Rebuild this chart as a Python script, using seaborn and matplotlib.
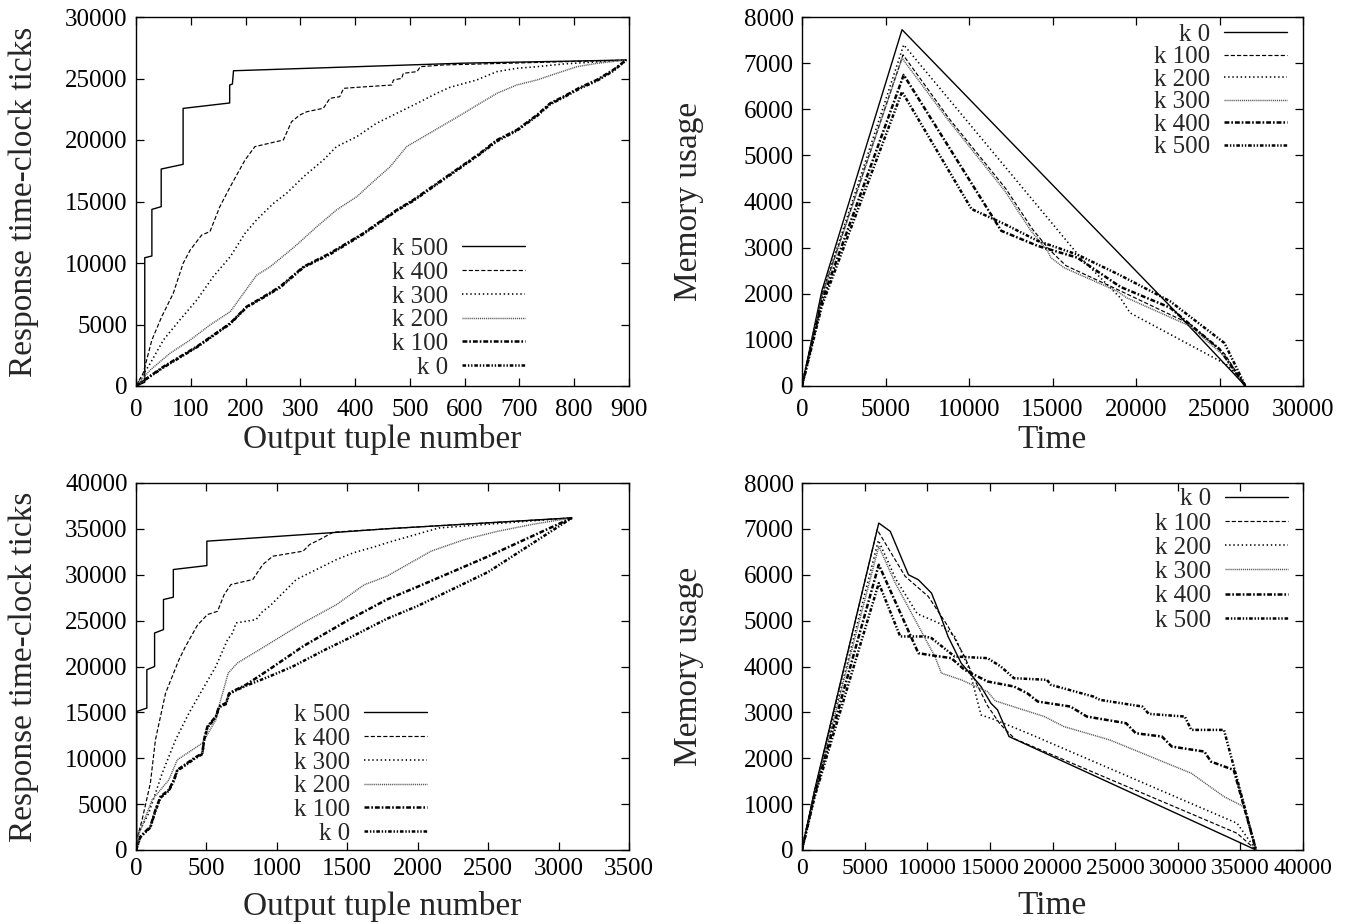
import matplotlib
matplotlib.use("Agg")
import matplotlib.pyplot as plt
import seaborn as sns
import numpy as np

# ---------------- data ----------------
# Top-left: response time vs output tuple number
tl_labels = ["k 500", "k 400", "k 300", "k 200", "k 100", "k 0"]
tl_k500_x = [0, 16, 16, 29, 29, 46, 46, 86, 86, 171, 171, 176, 178, 600, 895]
tl_k500_y = [0, 300, 10430, 10570, 14360, 14580, 17640, 18020, 22570, 23010, 24470, 24550, 25630, 26250, 26500]
tl_k400_x = [0, 13, 29, 47, 68, 86, 99, 120, 135, 153, 172, 199, 217, 269, 284, 299, 312, 342, 354, 372, 379, 403, 467, 470, 485, 488, 513, 519, 561, 895]
tl_k400_y = [0, 1030, 3740, 5640, 7530, 9970, 11060, 12280, 12550, 14580, 16200, 18370, 19460, 20000, 21490, 22030, 22300, 22580, 23390, 23520, 24200, 24280, 24470, 24880, 25010, 25420, 25560, 25960, 26100, 26500]
tl_k300_x = [0, 26, 50, 80, 111, 141, 172, 199, 220, 251, 275, 306, 342, 366, 403, 439, 476, 513, 549, 573, 622, 659, 695, 732, 780, 895]
tl_k300_y = [0, 1840, 3740, 5370, 6990, 8890, 10510, 12410, 13500, 14850, 15670, 17020, 18370, 19460, 20270, 21360, 22170, 22980, 23800, 24280, 24880, 25560, 25830, 25960, 26180, 26500]
tl_k200_x = [0, 26, 62, 99, 135, 172, 199, 220, 245, 275, 293, 330, 366, 403, 433, 464, 494, 525, 567, 598, 628, 659, 695, 732, 768, 805, 841, 895]
tl_k200_y = [0, 1300, 2660, 3740, 4960, 6040, 7700, 9000, 9700, 10790, 11460, 12950, 14310, 15390, 16610, 17830, 19460, 20270, 21360, 22170, 22980, 23800, 24470, 24880, 25420, 25960, 26230, 26500]
tl_k100_x = [0, 50, 111, 172, 202, 233, 263, 306, 354, 415, 476, 506, 567, 628, 659, 695, 732, 756, 780, 811, 841, 871, 895]
tl_k100_y = [0, 1570, 3200, 5100, 6450, 7260, 8080, 9700, 10790, 12410, 14310, 15120, 17020, 18920, 20000, 20810, 22030, 22980, 23520, 24280, 24880, 25690, 26500]
tl_k0_x = [0, 50, 111, 172, 202, 233, 263, 306, 354, 415, 476, 506, 567, 628, 659, 695, 732, 756, 780, 811, 841, 871, 895]
tl_k0_y = [0, 1500, 3150, 5050, 6400, 7200, 8000, 9650, 10700, 12350, 14250, 15050, 16950, 18850, 19900, 20750, 21950, 22900, 23450, 24200, 24800, 25600, 26500]

# Top-right: memory usage vs time
tr_labels = ["k 0", "k 100", "k 200", "k 300", "k 400", "k 500"]
tr_k0_x = [0, 1190, 5990, 12000, 18860, 22500, 26550]
tr_k0_y = [0, 2065, 7725, 5480, 2920, 1560, 0]
tr_k100_x = [0, 1200, 6050, 8800, 12200, 13800, 14800, 15800, 18900, 23200, 25300, 26550]
tr_k100_y = [0, 1980, 7180, 5800, 4280, 3400, 2960, 2610, 2090, 1350, 700, 0]
tr_k200_x = [0, 1200, 6090, 16680, 19060, 19650, 25500, 26550]
tr_k200_y = [0, 2000, 7398, 2783, 1911, 1584, 450, 0]
tr_k300_x = [0, 1200, 5990, 8760, 12130, 13710, 14700, 14900, 15690, 18860, 19450, 23230, 25200, 26550]
tr_k300_y = [0, 1950, 7107, 5763, 4237, 3365, 2929, 2783, 2565, 2057, 1911, 1300, 676, 0]
tr_k400_x = [0, 1200, 6090, 7770, 11930, 14110, 16480, 19060, 22030, 25000, 26550]
tr_k400_y = [0, 1850, 6744, 5772, 3365, 3038, 2783, 2150, 1700, 800, 0]
tr_k500_x = [0, 1200, 5990, 10150, 12130, 14110, 16480, 19060, 22030, 25300, 26550]
tr_k500_y = [0, 1750, 6380, 3837, 3510, 3147, 2850, 2400, 1840, 930, 0]

# Bottom-left: response time vs output tuple number
bl_labels = ["k 500", "k 400", "k 300", "k 200", "k 100", "k 0"]
bl_k500_x = [0, 5, 5, 77, 77, 132, 132, 195, 195, 265, 265, 503, 503, 1376, 1781, 3095]
bl_k500_y = [0, 200, 15100, 15470, 19650, 20000, 23650, 24020, 27300, 27550, 30570, 31000, 33660, 34570, 35010, 36200]
bl_k400_x = [0, 5, 43, 102, 138, 174, 210, 305, 352, 436, 507, 579, 626, 674, 829, 900, 971, 1186, 1233, 1305, 1400, 1781, 3095]
bl_k400_y = [0, 1090, 3280, 7280, 12010, 14560, 17100, 20740, 22200, 24500, 25660, 26020, 27840, 28930, 29480, 31110, 32020, 32570, 33300, 33840, 34640, 35010, 36200]
bl_k300_x = [0, 5, 90, 186, 281, 376, 471, 567, 650, 686, 710, 852, 900, 948, 1043, 1138, 1281, 1424, 1543, 1710, 1781, 2150, 3095]
bl_k300_y = [0, 1460, 4000, 8370, 12010, 14920, 17470, 20010, 22930, 23650, 24750, 25110, 26020, 26560, 28020, 29480, 30570, 31660, 32390, 33120, 33480, 35100, 36200]
bl_k200_x = [0, 5, 114, 233, 293, 471, 567, 595, 655, 720, 876, 1186, 1424, 1619, 1781, 2095, 2333, 2571, 2810, 3095]
bl_k200_y = [0, 1090, 5460, 7640, 9830, 11640, 14190, 16010, 19290, 20380, 21830, 24750, 26750, 28900, 29840, 32570, 33840, 34750, 35480, 36200]
bl_k100_x = [0, 31, 102, 138, 174, 233, 269, 293, 329, 412, 471, 483, 507, 567, 590, 638, 662, 710, 781, 948, 1186, 1500, 1781, 2000, 2500, 3095]
bl_k100_y = [0, 1460, 2550, 4370, 5820, 6550, 7640, 8730, 9100, 10010, 10550, 12010, 13460, 14560, 15650, 16010, 17100, 17470, 18010, 19700, 22200, 25000, 27300, 28700, 32000, 36200]
bl_k0_x = [0, 31, 102, 138, 174, 233, 269, 293, 329, 412, 471, 483, 507, 567, 590, 638, 662, 710, 781, 948, 1114, 1352, 1500, 1781, 2000, 2500, 3095]
bl_k0_y = [0, 1400, 2450, 4250, 5700, 6450, 7550, 8650, 9000, 9900, 10450, 11900, 13350, 14450, 15550, 15900, 17000, 17400, 17900, 18920, 20010, 21900, 23000, 25200, 26600, 30300, 36200]

# Bottom-right: memory usage vs time
br_labels = ["k 0", "k 100", "k 200", "k 300", "k 400", "k 500"]
br_k0_x = [0, 1000, 6130, 7050, 8500, 9290, 10340, 11130, 11660, 12710, 14290, 15080, 15610, 16530, 36250]
br_k0_y = [0, 1300, 7127, 6945, 6000, 5891, 5600, 5054, 4655, 4073, 3564, 3200, 3055, 2473, 0]
br_k100_x = [0, 1000, 6000, 8240, 10080, 11660, 12980, 13800, 14800, 15800, 17000, 34740, 36250]
br_k100_y = [0, 1280, 6982, 5964, 5527, 4873, 4218, 3700, 3150, 2750, 2420, 364, 0]
br_k200_x = [0, 1000, 6100, 7500, 9200, 10900, 12190, 13370, 14290, 15436, 18040, 34740, 36250]
br_k200_y = [0, 1260, 6750, 5900, 5150, 4950, 4655, 3927, 2945, 2836, 2545, 582, 0]
br_k300_x = [0, 1000, 6130, 7450, 9030, 10610, 11130, 12710, 14820, 15436, 19350, 20910, 24560, 27170, 31080, 33690, 35260, 36250]
br_k300_y = [0, 1240, 6618, 5818, 5018, 4218, 3855, 3709, 3450, 3250, 2909, 2691, 2400, 2109, 1673, 1164, 945, 0]
br_k400_x = [0, 1000, 6130, 9290, 10080, 11920, 12980, 14820, 16920, 17980, 18830, 21430, 22740, 25870, 26650, 28740, 29520, 32130, 32650, 34470, 36250]
br_k400_y = [0, 1200, 6218, 4291, 4255, 4182, 3927, 3673, 3564, 3418, 3236, 3127, 2909, 2764, 2545, 2473, 2255, 2145, 1927, 1745, 0]
br_k500_x = [0, 1000, 6130, 7840, 9820, 10340, 12190, 14820, 15870, 16920, 19560, 19870, 23260, 23780, 27170, 27690, 30560, 31080, 33690, 36250]
br_k500_y = [0, 1150, 5818, 4655, 4655, 4618, 4218, 4182, 4000, 3745, 3709, 3600, 3345, 3273, 3127, 2967, 2909, 2618, 2618, 0]

# ---------------- style ----------------
sns.set_style("ticks")
plt.rcParams.update({
    "font.family": ["Liberation Serif", "DejaVu Serif"],
    "lines.scale_dashes": False,
    "xtick.direction": "in", "ytick.direction": "in",
    "xtick.top": True, "ytick.right": True,
    "xtick.major.size": 6, "ytick.major.size": 6,
    "xtick.major.width": 0.9, "ytick.major.width": 0.9,
    "axes.linewidth": 1.0, "axes.edgecolor": "black",
    "xtick.color": "black", "ytick.color": "black",
})

STYLES = [
    dict(color="black", lw=1.0, ls="-"),
    dict(color="black", lw=0.85, ls=(0, (3.0, 1.5))),
    dict(color="black", lw=1.15, ls=(0, (1.0, 2.0))),
    dict(color="0.35", lw=1.05, ls=(0, (0.8, 0.6))),
    dict(color="black", lw=1.8, ls=(0, (3.5, 1.4, 1.2, 1.4))),
    dict(color="black", lw=1.8, ls=(0, (2.6, 1.3, 1.0, 1.3, 1.0, 1.3))),
]

TICK_FS = 18
LABEL_FS = 24
LEG_FS = 18

fig = plt.figure(figsize=(13.52, 9.24), dpi=100)
W, H = 1352, 924

def add_ax(x0, y0, x1, y1):
    return fig.add_axes([x0 / W, 1 - y1 / H, (x1 - x0) / W, (y1 - y0) / H])

ax_tl = add_ax(136, 17, 629, 386)
ax_tr = add_ax(802, 17, 1303, 386)
ax_bl = add_ax(136, 483, 629, 850)
ax_br = add_ax(802, 483, 1303, 850)

panels = [
    (ax_tl, tl_labels, [(tl_k500_x, tl_k500_y), (tl_k400_x, tl_k400_y), (tl_k300_x, tl_k300_y),
                        (tl_k200_x, tl_k200_y), (tl_k100_x, tl_k100_y), (tl_k0_x, tl_k0_y)],
     (0, 900, 100), (0, 30000, 5000), "Output tuple number", "Response time-clock ticks",
     (0.789, 0.402), 0.05, 9, -0.146, TICK_FS),
    (ax_tr, tr_labels, [(tr_k0_x, tr_k0_y), (tr_k100_x, tr_k100_y), (tr_k200_x, tr_k200_y),
                        (tr_k300_x, tr_k300_y), (tr_k400_x, tr_k400_y), (tr_k500_x, tr_k500_y)],
     (0, 30000, 5000), (0, 8000, 1000), "Time", "Memory usage",
     (0.968, 0.983), 0.0, 9, -0.146, TICK_FS),
    (ax_bl, bl_labels, [(bl_k500_x, bl_k500_y), (bl_k400_x, bl_k400_y), (bl_k300_x, bl_k300_y),
                        (bl_k200_x, bl_k200_y), (bl_k100_x, bl_k100_y), (bl_k0_x, bl_k0_y)],
     (0, 3500, 500), (0, 40000, 5000), "Output tuple number", "Response time-clock ticks",
     (0.590, 0.3986), 0.05, 6, -0.1526, TICK_FS),
    (ax_br, br_labels, [(br_k0_x, br_k0_y), (br_k100_x, br_k100_y), (br_k200_x, br_k200_y),
                        (br_k300_x, br_k300_y), (br_k400_x, br_k400_y), (br_k500_x, br_k500_y)],
     (0, 40000, 5000), (0, 8000, 1000), "Time", "Memory usage",
     (0.970, 0.987), 0.07, 6, -0.1526, 17.0),
]

for ax, labels, series, xr, yr, xlab, ylab, leg_anchor, lsp, xpad, xlab_y, xfs in panels:
    for (xs, ys), lab, st in zip(series, labels, STYLES):
        sns.lineplot(x=xs, y=ys, ax=ax, estimator=None, sort=False,
                     color=st["color"], linewidth=st["lw"], linestyle=st["ls"],
                     label=lab)
    ax.set_xlim(xr[0], xr[1])
    ax.set_ylim(yr[0], yr[1])
    ax.set_xticks(np.arange(xr[0], xr[1] + 1, xr[2]))
    ax.set_yticks(np.arange(yr[0], yr[1] + 1, yr[2]))
    ax.tick_params(axis="y", labelsize=TICK_FS, pad=6)
    ax.tick_params(axis="x", labelsize=xfs, pad=xpad)
    ax.set_xlabel(xlab, fontsize=LABEL_FS)
    ax.set_ylabel(ylab, fontsize=LABEL_FS)
    ax.xaxis.label.set_va("center")
    ax.yaxis.label.set_va("center")
    ax.xaxis.set_label_coords(0.5, xlab_y)
    ax.yaxis.set_label_coords(-0.227, 0.5)
    for sp in ax.spines.values():
        sp.set_visible(True)
        sp.set_color("black")
    h, l = ax.get_legend_handles_labels()
    ax.legend(h, l, loc="upper right", bbox_to_anchor=leg_anchor, frameon=False,
              markerfirst=False, fontsize=LEG_FS, handlelength=2.5,
              handletextpad=0.56, labelspacing=lsp, borderpad=0, borderaxespad=0)

fig.savefig("out.png", dpi=100)
